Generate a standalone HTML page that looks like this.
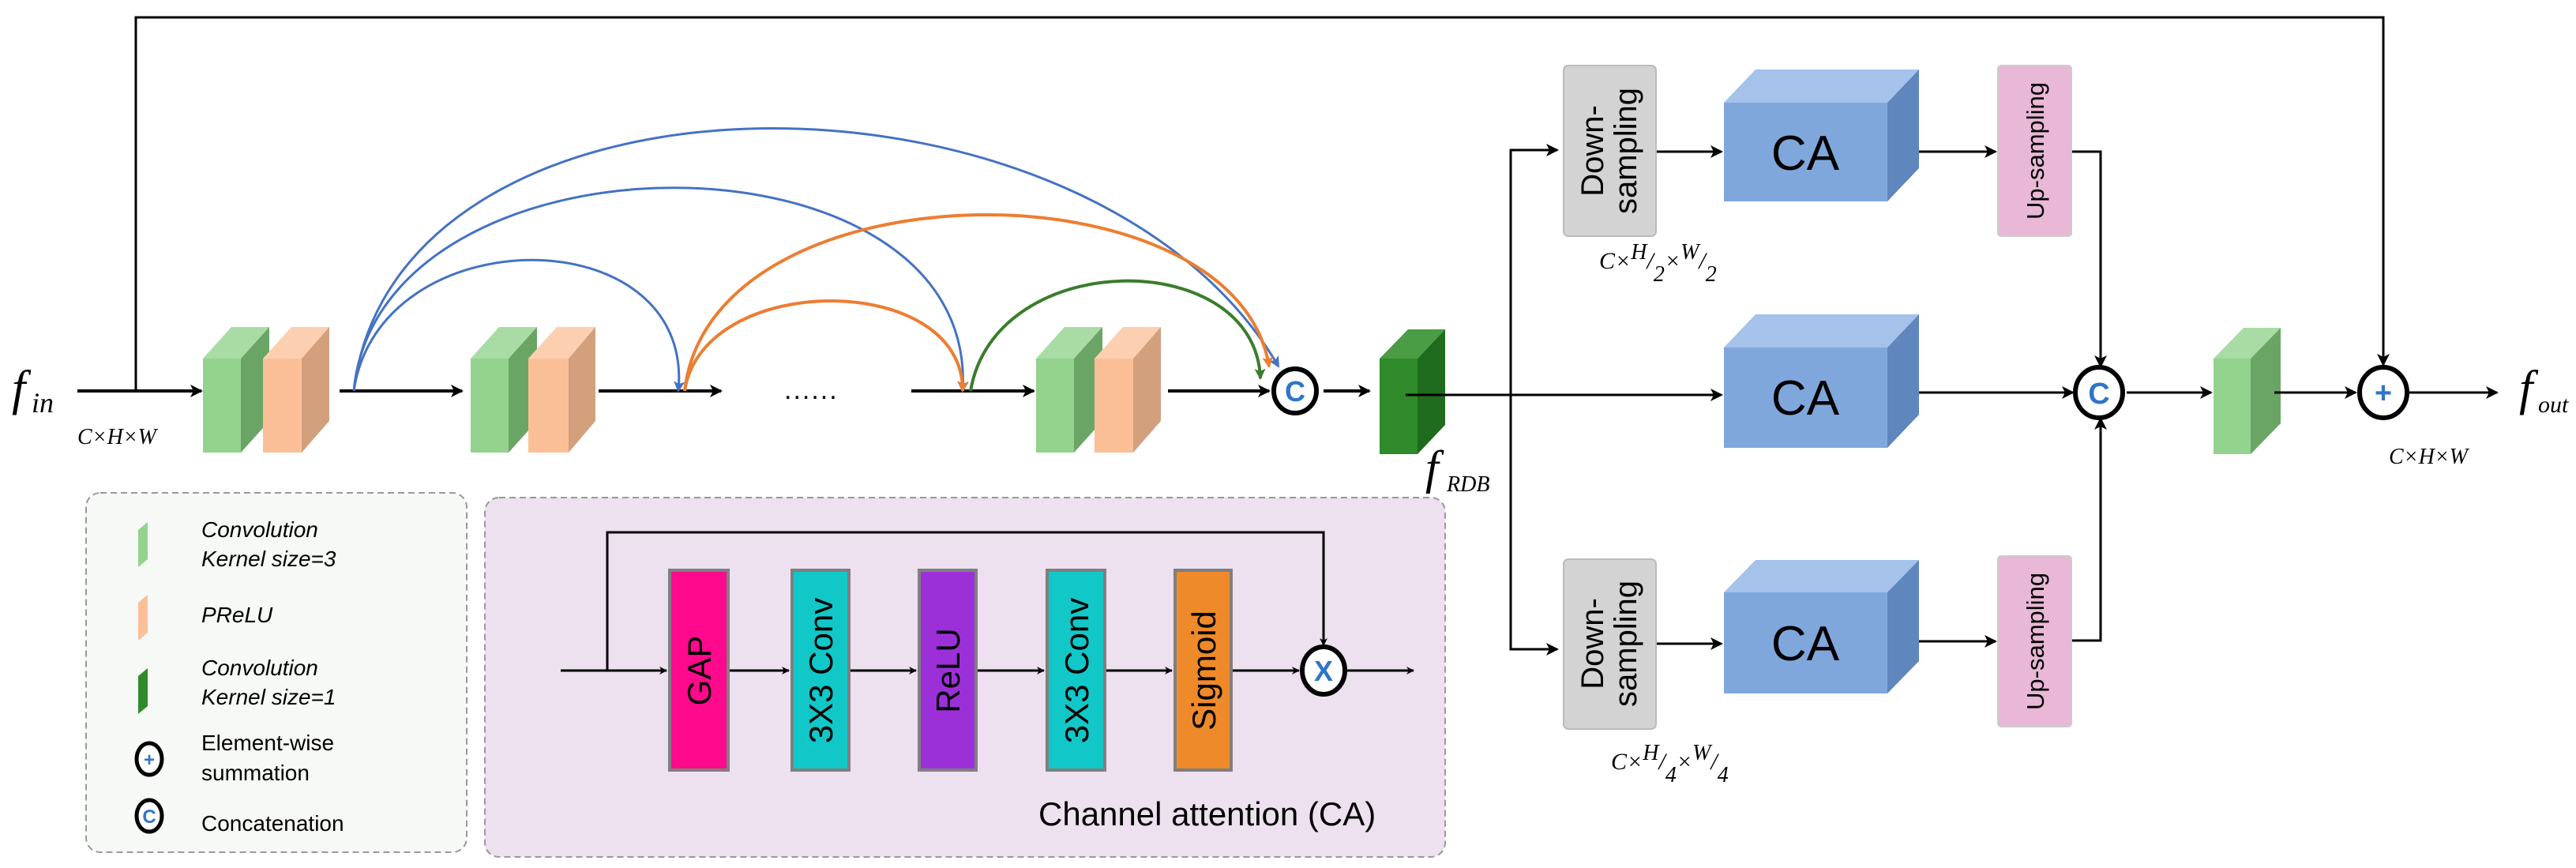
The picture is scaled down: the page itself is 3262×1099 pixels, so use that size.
<!DOCTYPE html>
<html><head><meta charset="utf-8"><style>
html,body{margin:0;padding:0;background:#fff}
svg{display:block}
text{font-family:"Liberation Sans",sans-serif}
.m{font-family:"Liberation Serif",serif;font-style:italic}
</style></head><body>
<svg width="3262" height="1099" viewBox="0 0 3262 1099" xmlns="http://www.w3.org/2000/svg">
<defs>
<marker id="ak" markerWidth="10" markerHeight="10" refX="9" refY="5" orient="auto" markerUnits="userSpaceOnUse"><path d="M0,0 L10,5 L0,10 L3,5 z" fill="#000"/></marker>
<marker id="ab" markerWidth="16" markerHeight="16" refX="14" refY="8" orient="auto" markerUnits="userSpaceOnUse"><path d="M0,0 L16,8 L0,16 L4,8 z" fill="#000"/></marker>
<marker id="mb" markerWidth="14" markerHeight="14" refX="12" refY="7" orient="auto" markerUnits="userSpaceOnUse"><path d="M0,0 L14,7 L0,14 L3,7 z" fill="#4472c4"/></marker>
<marker id="mo" markerWidth="14" markerHeight="14" refX="12" refY="7" orient="auto" markerUnits="userSpaceOnUse"><path d="M0,0 L14,7 L0,14 L3,7 z" fill="#ed7d31"/></marker>
<marker id="mg" markerWidth="14" markerHeight="14" refX="12" refY="7" orient="auto" markerUnits="userSpaceOnUse"><path d="M0,0 L14,7 L0,14 L3,7 z" fill="#3a7d2c"/></marker>
</defs>

<!-- top skip line -->
<path d="M172 495 V22 H3018 V462" fill="none" stroke="#000" stroke-width="3" marker-end="url(#ab)"/>

<!-- main line arrows -->
<g stroke="#000" stroke-width="4" fill="none" marker-end="url(#ab)">
<line x1="98" y1="495" x2="255" y2="495"/>
<line x1="430" y1="495" x2="585" y2="495"/>
<line x1="758" y1="495" x2="913" y2="495"/>
<line x1="1154" y1="495" x2="1309" y2="495"/>
<line x1="1479" y1="495" x2="1607" y2="495"/>
<line x1="1676" y1="495" x2="1734" y2="495"/>
</g>
<text x="993" y="505" font-size="34" fill="#000" letter-spacing="2">......</text>

<!-- arcs -->
<g fill="none" stroke-width="3">
<path d="M448 495 C500 57,1382 57,1619 464" stroke="#4472c4" marker-end="url(#mb)"/>
<path d="M448 495 C480 152,1240 152,1219 495" stroke="#4472c4" marker-end="url(#mb)"/>
<path d="M448 495 C480 274,880 274,859 495" stroke="#4472c4" marker-end="url(#mb)"/>
<path d="M867 495 C900 203,1566 203,1607 464" stroke="#ed7d31" stroke-width="4" marker-end="url(#mo)"/>
<path d="M867 495 C890 343,1220 343,1219 495" stroke="#ed7d31" stroke-width="4" marker-end="url(#mo)"/>
<path d="M1229 495 C1260 312,1590 312,1596 479" stroke="#3a7d2c" stroke-width="4" marker-end="url(#mg)"/>
</g>

<!-- slab blocks -->
<g id="slabs">
<!-- block1 -->
<polygon points="257,454 293,414 341,414 305,454" fill="#a9dca4"/><rect x="257" y="454" width="48" height="119" fill="#93d38e"/><polygon points="305,454 341,414 341,533 305,573" fill="#6aa566"/>
<polygon points="333,454 369,414 417,414 382,454" fill="#fccfb0"/><rect x="333" y="454" width="49" height="119" fill="#fbbf98"/><polygon points="382,454 417,414 417,533 382,573" fill="#d3a07e"/>
<!-- block2 -->
<polygon points="596,454 632,414 680,414 644,454" fill="#a9dca4"/><rect x="596" y="454" width="48" height="119" fill="#93d38e"/><polygon points="644,454 680,414 680,533 644,573" fill="#6aa566"/>
<polygon points="669,454 705,414 754,414 720,454" fill="#fccfb0"/><rect x="669" y="454" width="51" height="119" fill="#fbbf98"/><polygon points="720,454 754,414 754,533 720,573" fill="#d3a07e"/>
<!-- block3 -->
<polygon points="1312,454 1348,414 1396,414 1360,454" fill="#a9dca4"/><rect x="1312" y="454" width="48" height="119" fill="#93d38e"/><polygon points="1360,454 1396,414 1396,533 1360,573" fill="#6aa566"/>
<polygon points="1386,454 1422,414 1470,414 1435,454" fill="#fccfb0"/><rect x="1386" y="454" width="49" height="119" fill="#fbbf98"/><polygon points="1435,454 1470,414 1470,533 1435,573" fill="#d3a07e"/>
<!-- dark green -->
<polygon points="1747,454 1783,417 1830,417 1795,454" fill="#4a9c45"/><rect x="1747" y="454" width="48" height="121" fill="#2f8a2a"/><polygon points="1795,454 1830,417 1830,538 1795,575" fill="#1f6b1d"/>
<!-- light green right -->
<polygon points="2803,454 2841,415 2888,415 2850,454" fill="#a9dca4"/><rect x="2803" y="454" width="47" height="121" fill="#93d38e"/><polygon points="2850,454 2888,415 2888,536 2850,575" fill="#6aa566"/>
</g>

<!-- C circle left -->
<ellipse cx="1640" cy="495" rx="27" ry="28" fill="#fff" stroke="#000" stroke-width="6"/>
<text x="1640" y="508" font-size="36" font-weight="bold" fill="#2e75c8" text-anchor="middle">C</text>

<text x="15" y="512" class="m" font-size="62">f</text><text x="40" y="522" class="m" font-size="36">in</text>
<text x="98" y="562" class="m" font-size="28">C×H×W</text>

<text x="1805" y="612" class="m" font-size="60">f</text><text x="1832" y="622" class="m" font-size="28">RDB</text>

<!-- branch -->
<g stroke="#000" stroke-width="3" fill="none">
<line x1="1780" y1="500" x2="2180" y2="500" marker-end="url(#ab)"/>
<path d="M1913 500 V190 H1972" marker-end="url(#ab)"/>
<path d="M1913 500 V822 H1972" marker-end="url(#ab)"/>
<line x1="2097" y1="192" x2="2180" y2="192" marker-end="url(#ab)"/>
<line x1="2097" y1="815" x2="2180" y2="815" marker-end="url(#ab)"/>
<line x1="2430" y1="192" x2="2527" y2="192" marker-end="url(#ab)"/>
<line x1="2430" y1="812" x2="2527" y2="812" marker-end="url(#ab)"/>
<line x1="2430" y1="497" x2="2625" y2="497" marker-end="url(#ab)"/>
<path d="M2623 192 H2660 V464" marker-end="url(#ab)"/>
<path d="M2623 811 H2660 V530" marker-end="url(#ab)"/>
<line x1="2693" y1="497" x2="2800" y2="497" marker-end="url(#ab)"/>
<line x1="2880" y1="497" x2="2983" y2="497" marker-end="url(#ab)"/>
<line x1="3051" y1="497" x2="3162" y2="497" marker-end="url(#ab)"/>
</g>

<!-- down/up sampling boxes -->
<rect x="1980" y="83" width="117" height="216" rx="6" fill="#d3d3d3" stroke="#bbb" stroke-width="2"/>
<text transform="translate(2038,191) rotate(-90)" font-size="40" text-anchor="middle"><tspan x="0" y="-8">Down-</tspan><tspan x="0" y="34">sampling</tspan></text>
<rect x="1980" y="708" width="117" height="215" rx="6" fill="#d3d3d3" stroke="#bbb" stroke-width="2"/>
<text transform="translate(2038,815) rotate(-90)" font-size="40" text-anchor="middle"><tspan x="0" y="-8">Down-</tspan><tspan x="0" y="34">sampling</tspan></text>
<rect x="2530" y="83" width="93" height="216" rx="4" fill="#e8b8d6" stroke="#ccc" stroke-width="2"/>
<text transform="translate(2588,191) rotate(-90)" font-size="31" text-anchor="middle">Up-sampling</text>
<rect x="2530" y="704" width="93" height="216" rx="4" fill="#e8b8d6" stroke="#ccc" stroke-width="2"/>
<text transform="translate(2588,812) rotate(-90)" font-size="31" text-anchor="middle">Up-sampling</text>

<!-- CA cubes -->
<g>
<polygon points="2183,130 2223,88 2430,88 2390,130" fill="#a4c2ea"/><rect x="2183" y="130" width="207" height="125" fill="#7fa7dc"/><polygon points="2390,130 2430,88 2430,213 2390,255" fill="#5f86bd"/>
<text x="2286" y="215" font-size="62" text-anchor="middle">CA</text>
<polygon points="2183,440 2223,398 2430,398 2390,440" fill="#a4c2ea"/><rect x="2183" y="440" width="207" height="127" fill="#7fa7dc"/><polygon points="2390,440 2430,398 2430,525 2390,567" fill="#5f86bd"/>
<text x="2286" y="525" font-size="62" text-anchor="middle">CA</text>
<polygon points="2183,750 2223,709 2430,709 2390,750" fill="#a4c2ea"/><rect x="2183" y="750" width="207" height="128" fill="#7fa7dc"/><polygon points="2390,750 2430,709 2430,837 2390,878" fill="#5f86bd"/>
<text x="2286" y="836" font-size="62" text-anchor="middle">CA</text>
</g>

<text x="2025" y="340" class="m" font-size="30">C×<tspan font-size="28" dy="-12">H</tspan><tspan dy="12">/</tspan><tspan font-size="28" dy="16">2</tspan><tspan dy="-16">×</tspan><tspan font-size="28" dy="-12">W</tspan><tspan dy="12">/</tspan><tspan font-size="28" dy="16">2</tspan></text>
<text x="2040" y="974" class="m" font-size="30">C×<tspan font-size="28" dy="-12">H</tspan><tspan dy="12">/</tspan><tspan font-size="28" dy="16">4</tspan><tspan dy="-16">×</tspan><tspan font-size="28" dy="-12">W</tspan><tspan dy="12">/</tspan><tspan font-size="28" dy="16">4</tspan></text>

<!-- C circle right, plus -->
<ellipse cx="2658" cy="497" rx="30" ry="32" fill="#fff" stroke="#000" stroke-width="6"/>
<text x="2658" y="511" font-size="38" font-weight="bold" fill="#2e75c8" text-anchor="middle">C</text>
<ellipse cx="3018" cy="497" rx="30" ry="32" fill="#fff" stroke="#000" stroke-width="6"/>
<text x="3018" y="510" font-size="38" font-weight="bold" fill="#2e75c8" text-anchor="middle">+</text>
<text x="3190" y="512" class="m" font-size="62">f</text><text x="3214" y="522" class="m" font-size="30">out</text>
<text x="3025" y="587" class="m" font-size="28">C×H×W</text>

<!-- legend -->
<rect x="109" y="624" width="482" height="455" rx="18" fill="#f7f9f6" stroke="#999" stroke-width="2" stroke-dasharray="8,5"/>
<polygon points="175,671 187,661 187,708 175,718" fill="#93d38e"/><polygon points="187,661 204,661 204,708 187,708" fill="#fff" opacity="0"/>
<polygon points="175,763 187,753 187,801 175,811" fill="#fbbf98"/>
<polygon points="175,856 187,846 187,894 175,904" fill="#2f8a2a"/>
<g class="m" font-size="28" style="font-family:'Liberation Sans',sans-serif;font-style:italic">
<text x="255" y="680">Convolution</text><text x="255" y="717">Kernel size=3</text>
<text x="255" y="788">PReLU</text>
<text x="255" y="855">Convolution</text><text x="255" y="892">Kernel size=1</text>
</g>
<g font-size="28">
<text x="255" y="950">Element-wise</text><text x="255" y="988">summation</text>
<text x="255" y="1052">Concatenation</text>
</g>
<ellipse cx="189" cy="961" rx="16" ry="20" fill="#fff" stroke="#000" stroke-width="5"/>
<text x="189" y="970" font-size="24" font-weight="bold" fill="#2e75c8" text-anchor="middle">+</text>
<ellipse cx="189" cy="1033" rx="16" ry="20" fill="#fff" stroke="#000" stroke-width="5"/>
<text x="189" y="1042" font-size="24" font-weight="bold" fill="#2e75c8" text-anchor="middle">C</text>

<!-- CA panel -->
<rect x="614" y="630" width="1216" height="455" rx="18" fill="#ede0ef" stroke="#999" stroke-width="2" stroke-dasharray="8,5"/>
<g stroke="#000" stroke-width="3" fill="none">
<path d="M769 849 V674 H1676 V817" marker-end="url(#ak)"/>
<line x1="710" y1="849" x2="844" y2="849" marker-end="url(#ak)"/>
<line x1="924" y1="849" x2="999" y2="849" marker-end="url(#ak)"/>
<line x1="1077" y1="849" x2="1160" y2="849" marker-end="url(#ak)"/>
<line x1="1238" y1="849" x2="1322" y2="849" marker-end="url(#ak)"/>
<line x1="1401" y1="849" x2="1484" y2="849" marker-end="url(#ak)"/>
<line x1="1561" y1="849" x2="1645" y2="849" marker-end="url(#ak)"/>
<line x1="1706" y1="849" x2="1790" y2="849" marker-end="url(#ak)"/>
</g>
<g stroke="#7f7f7f" stroke-width="4">
<rect x="848" y="722" width="74" height="253" fill="#ff0a8c"/>
<rect x="1003" y="722" width="72" height="253" fill="#12c7c7"/>
<rect x="1164" y="722" width="72" height="253" fill="#9b30d9"/>
<rect x="1326" y="722" width="73" height="253" fill="#12c7c7"/>
<rect x="1488" y="722" width="71" height="253" fill="#ee8a2a"/>
</g>
<g font-size="42" text-anchor="middle">
<text transform="translate(900,849) rotate(-90)">GAP</text>
<text transform="translate(1054,849) rotate(-90)">3X3 Conv</text>
<text transform="translate(1215,849) rotate(-90)">ReLU</text>
<text transform="translate(1378,849) rotate(-90)">3X3 Conv</text>
<text transform="translate(1539,849) rotate(-90)">Sigmoid</text>
</g>
<ellipse cx="1676" cy="849" rx="27" ry="30" fill="#fff" stroke="#000" stroke-width="6"/>
<text x="1676" y="862" font-size="36" font-weight="bold" fill="#2e75c8" text-anchor="middle">X</text>
<text x="1315" y="1045" font-size="42">Channel attention (CA)</text>
</svg>
</body></html>
